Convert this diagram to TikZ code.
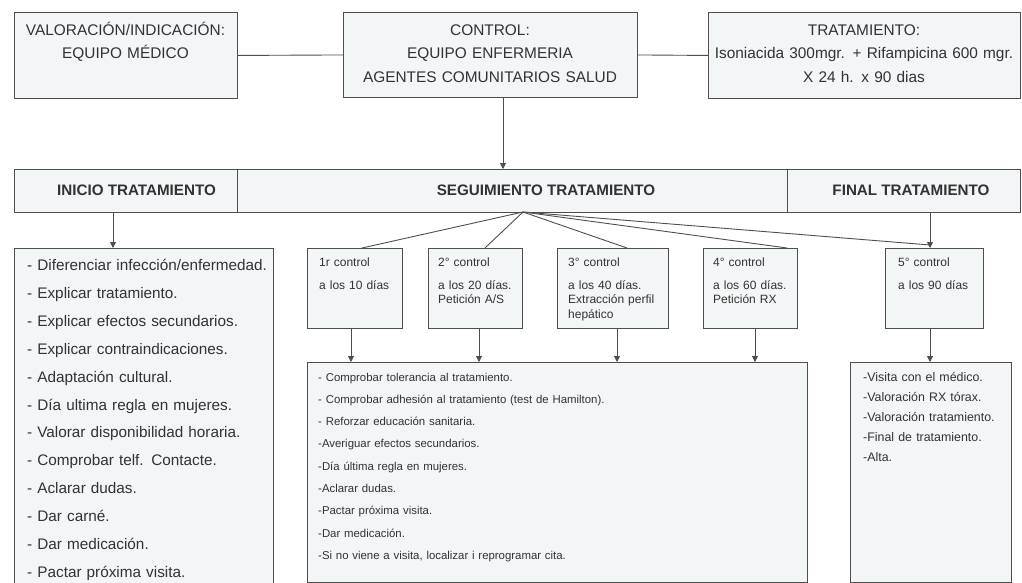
\documentclass[tikz,border=0pt]{standalone}
\usepackage{fontspec}
\setmainfont{Liberation Sans}
\usetikzlibrary{arrows.meta,calc}
\definecolor{boxfill}{RGB}{243,246,246}
\definecolor{edge}{RGB}{78,78,78}
\definecolor{ink}{RGB}{50,50,50}
\tikzset{
  box/.style={draw=edge, fill=boxfill, line width=0.9pt, inner sep=0pt, anchor=north west},
  conn/.style={draw=edge, line width=0.9pt},
  arr/.style={conn, -{Triangle[width=6pt,length=6pt]}},
  txt/.style={text=ink, inner sep=0pt},
  toptxt/.style={txt, anchor=base, align=center, font=\fontsize{15.4}{23.5}\selectfont},
  bartxt/.style={txt, anchor=base, font=\fontsize{15.2}{18}\selectfont\bfseries},
  ctltxt/.style={txt, anchor=base west, text width=92pt, align=left, font=\fontsize{12}{14.6}\selectfont},
}
\begin{document}
\begin{tikzpicture}[x=1pt,y=-1pt]
\useasboundingbox (0,0) rectangle (1022,583);
\fill[white] (0,0) rectangle (1022,583);

% top boxes
\node[box, minimum width=223pt, minimum height=86pt] (valor) at (14,12) {};
\node[box, minimum width=294pt, minimum height=85pt] (control) at (343,12) {};
\node[box, minimum width=312pt, minimum height=86pt] (trat) at (708,12) {};
\node[toptxt, text width=223pt] (valorT) at (125.5,35.5) {VALORACIÓN/INDICACIÓN:\\EQUIPO MÉDICO};
\node[toptxt, text width=294pt] (controlT) at (490,35.5) {CONTROL:\\EQUIPO ENFERMERIA\\AGENTES COMUNITARIOS SALUD};
\node[toptxt, text width=312pt] (tratT) at (864,35.5) {TRATAMIENTO:\\Isoniacida 300mgr. + Rifampicina 600 mgr.\\X 24 h. x 90 dias};

% phase bar
\node[box, minimum width=223pt, minimum height=43pt] (inicio) at (14,169) {};
\node[box, minimum width=550pt, minimum height=43pt] (seg) at (237,169) {};
\node[box, minimum width=233pt, minimum height=43pt] (final) at (787,169) {};
\node[bartxt] (inicioT) at (136.5,195.5) {INICIO TRATAMIENTO};
\node[bartxt] (segT) at (546,195.5) {SEGUIMIENTO TRATAMIENTO};
\node[bartxt] (finalT) at (911,195.5) {FINAL TRATAMIENTO};

% left list
\node[box, minimum width=259pt, minimum height=345pt] (inilist) at (14,248) {};
\node[txt, anchor=base west, text width=250pt, align=left, font=\fontsize{15.3}{27.9}\selectfont] (inilistT) at (27,270.5) {- Diferenciar infección/enfermedad.\\- Explicar tratamiento.\\- Explicar efectos secundarios.\\- Explicar contraindicaciones.\\- Adaptación cultural.\\- Día ultima regla en mujeres.\\- Valorar disponibilidad horaria.\\- Comprobar telf. Contacte.\\- Aclarar dudas.\\- Dar carné.\\- Dar medicación.\\- Pactar próxima visita.};

% control boxes
\node[box, minimum width=95pt, minimum height=80pt] (c1) at (307,248) {};
\node[box, minimum width=94pt, minimum height=80pt] (c2) at (428,248) {};
\node[box, minimum width=111pt, minimum height=80pt] (c3) at (557,248) {};
\node[box, minimum width=94pt, minimum height=80pt] (c4) at (703,248) {};
\node[box, minimum width=98pt, minimum height=80pt] (c5) at (885,248) {};
\node[ctltxt] (c1T) at (319,266) {1r control\\[8.5pt]a los 10 días};
\node[ctltxt] (c2T) at (438,266) {2° control\\[8.5pt]a los 20 días.\\Petición A/S};
\node[ctltxt] (c3T) at (568,266) {3° control\\[8.5pt]a los 40 días.\\Extracción perfil\\hepático};
\node[ctltxt] (c4T) at (713,266) {4° control\\[8.5pt]a los 60 días.\\Petición RX};
\node[ctltxt] (c5T) at (898,266) {5° control\\[8.5pt]a los 90 días};

% follow-up list
\node[box, minimum width=500pt, minimum height=220pt] (seglist) at (307,362) {};
\node[txt, anchor=base west, text width=480pt, align=left, font=\fontsize{11.4}{22.3}\selectfont] (seglistT) at (318,381) {- Comprobar tolerancia al tratamiento.\\- Comprobar adhesión al tratamiento (test de Hamilton).\\- Reforzar educación sanitaria.\\-Averiguar efectos secundarios.\\-Día última regla en mujeres.\\-Aclarar dudas.\\-Pactar próxima visita.\\-Dar medicación.\\-Si no viene a visita, localizar i reprogramar cita.};

% final list
\node[box, minimum width=161pt, minimum height=220pt] (finlist) at (850,362) {};
\node[txt, anchor=base west, text width=150pt, align=left, font=\fontsize{12.4}{20}\selectfont] (finlistT) at (863,381.5) {-Visita con el médico.\\-Valoración RX tórax.\\-Valoración tratamiento.\\-Final de tratamiento.\\-Alta.};

% connectors between top boxes
\draw[conn] (valor.east) -- (control.west);
\draw[conn] (control.east) -- (trat.west);
\coordinate (downx) at (503,0);
\draw[arr] (control.south -| downx) -- (seg.north -| downx);

% inicio arrow
\coordinate (inix) at (113,0);
\draw[arr] (inicio.south -| inix) -- (inilist.north -| inix);

% fan
\coordinate (fan) at (523,212);
\coordinate (f1) at (362,248);
\coordinate (f2) at (485,248);
\coordinate (f3) at (627,248);
\coordinate (f4) at (787,248);
\coordinate (f5) at (930,245);
\draw[conn] (fan) -- (f1);
\draw[conn] (fan) -- (f2);
\draw[conn] (fan) -- (f3);
\draw[conn] (fan) -- (f4);
\draw[conn] (fan) -- (f5);

% final arrows
\coordinate (finx) at (930,0);
\draw[arr] (final.south -| finx) -- (c5.north -| finx);
\draw[arr] (c5.south -| finx) -- (finlist.north -| finx);

% control arrows
\coordinate (a1) at (351,0);
\coordinate (a2) at (479,0);
\coordinate (a3) at (617,0);
\coordinate (a4) at (755,0);
\draw[arr] (c1.south -| a1) -- (seglist.north -| a1);
\draw[arr] (c2.south -| a2) -- (seglist.north -| a2);
\draw[arr] (c3.south -| a3) -- (seglist.north -| a3);
\draw[arr] (c4.south -| a4) -- (seglist.north -| a4);
\end{tikzpicture}
\end{document}
